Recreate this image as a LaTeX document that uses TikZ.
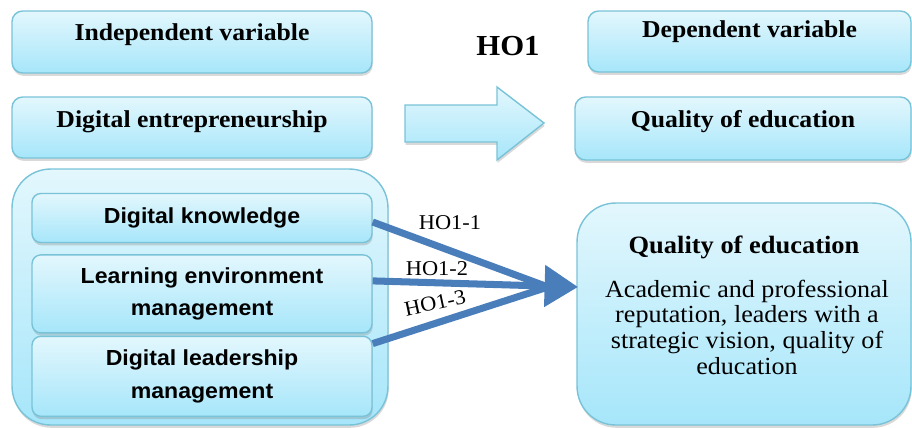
\documentclass[tikz,border=0pt]{standalone}
\usepackage{fontspec}
\setmainfont{Liberation Serif}
\setsansfont{Liberation Sans}
\newfontfamily\widesans{Liberation Sans}[FakeStretch=1.06]
\newfontfamily\wideserif{Liberation Serif}[FakeStretch=1.06]
\usetikzlibrary{positioning,calc,shadows,arrows.meta}

\definecolor{boxtop}{HTML}{E3F7FD}
\definecolor{boxbot}{HTML}{A6E6FA}
\definecolor{boxline}{HTML}{79C3D8}
\definecolor{hoblue}{HTML}{4A7EBB}

\tikzset{
  box/.style={draw=boxline, line width=0.8pt, top color=boxtop, bottom color=boxbot,
    rounded corners=6pt, drop shadow={shadow xshift=0.4pt, shadow yshift=-1.6pt, opacity=0.3}},
  hdr/.style={font=\wideserif\fontsize{13.8}{16}\selectfont\bfseries},
  sub/.style={box, font=\widesans\bfseries\fontsize{12.4}{18.5}\selectfont, align=center,
    rounded corners=5pt, minimum width=6.8cm},
  ho/.style={line width=4pt, draw=hoblue},
  holab/.style={font=\wideserif\fontsize{12}{13}\selectfont}
}

\begin{document}
\begin{tikzpicture}[x=0.02cm, y=-0.02cm]
\useasboundingbox (0,0) rectangle (912,427);

\node [box, minimum width=7.2cm, minimum height=1.24cm] (indep) at (192,42) {};
\node [hdr] (indep_t) at (192,35) {Independent variable};
\node [box, minimum width=7.2cm, minimum height=1.22cm] (digent) at (192,127.5) {};
\node [hdr] (digent_t) at (192,122) {Digital entrepreneurship};

\node [box, minimum width=6.46cm, minimum height=1.22cm] (dep) at (749.5,41.5) {};
\node [hdr] (dep_t) at (749.5,32) {Dependent variable};
\node [box, minimum width=6.72cm, minimum height=1.26cm] (qual) at (743,128.5) {};
\node [hdr] (qual_t) at (743,122) {Quality of education};

\node [font=\wideserif\fontsize{16.5}{18}\selectfont\bfseries] (ho1) at (508,46) {HO1};

\draw [box, rounded corners=0pt] (405,105) -- (497,105) -- (497,87) -- (544,123)
  -- (497,160) -- (497,142) -- (405,142) -- cycle;

\node [box, rounded corners=22pt, minimum width=7.52cm, minimum height=5.12cm] (group) at (200,297) {};
\node [sub, minimum height=0.98cm] (know) at (202,218) {Digital knowledge};
\node [sub, minimum height=1.56cm, below=0.22cm of know] (learn) {Learning environment\\management};
\node [sub, minimum height=1.6cm, below=0.04cm of learn] (lead) {Digital leadership\\management};

\node [box, rounded corners=22pt, minimum width=6.68cm, minimum height=4.44cm] (qbig) at (744,314) {};
\node [hdr, font=\wideserif\fontsize{14.2}{16}\selectfont\bfseries] (qbig_t) at (744,247) {Quality of education};
\node [align=center, font=\wideserif\fontsize{14}{14.6}\selectfont] (qbig_b) at (747,327)
  {Academic and professional\\reputation, leaders with a\\strategic vision, quality of\\education};

\coordinate (tip) at (578,287);
\coordinate (meet) at (548,287);
\draw [ho] ($(know.east)+(0,4)$) -- (meet);
\draw [ho] ($(lead.north east)+(0,8)$) -- (meet);
\draw [ho, -{Triangle[length=19pt, width=23pt]}] ($(learn.east)+(0,-13)$) -- (tip);

\node [holab] (h11) at (450,223) {HO1-1};
\node [holab] (h12) at (437,269) {HO1-2};
\node [holab, rotate=12] (h13) at (435,303) {HO1-3};
\end{tikzpicture}
\end{document}
